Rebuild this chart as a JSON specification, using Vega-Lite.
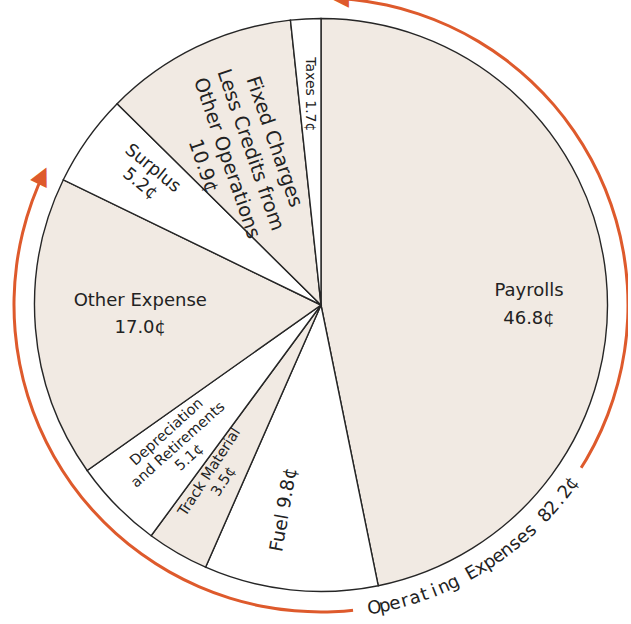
{
  "$schema": "https://vega.github.io/schema/vega-lite/v6.json",
  "width": 614,
  "height": 610,
  "autosize": {"type": "none"},
  "padding": {"left": 14, "top": 0, "right": 0, "bottom": 14},
  "background": "#ffffff",
  "config": {"view": {"stroke": null}, "text": {"font": "DejaVu Sans"}},
  "datasets": {
    "slices": [
      {"item": "Payrolls", "cents": 46.8, "order": 1, "label": "Payrolls\n46.8¢"},
      {"item": "Fuel", "cents": 9.8, "order": 2, "label": "Fuel 9.8¢"},
      {"item": "Track Material", "cents": 3.5, "order": 3, "label": "Track Material\n3.5¢"},
      {"item": "Depreciation and Retirements", "cents": 5.1, "order": 4, "label": "Depreciation\nand Retirements\n5.1¢"},
      {"item": "Other Expense", "cents": 17.0, "order": 5, "label": "Other Expense\n17.0¢"},
      {"item": "Surplus", "cents": 5.2, "order": 6, "label": "Surplus\n5.2¢"},
      {"item": "Fixed Charges Less Credits from Other Operations", "cents": 10.9, "order": 7, "label": "Fixed Charges\nLess Credits from\nOther Operations\n10.9¢"},
      {"item": "Taxes", "cents": 1.7, "order": 8, "label": "Taxes  1.7¢"}
    ],
    "bracket": [{"name": "Operating Expenses", "start": 0, "end": 82.2}],
    "caption": [
      {"i": 0, "ch": "O"}, {"i": 1, "ch": "p"}, {"i": 2, "ch": "e"}, {"i": 3, "ch": "r"},
      {"i": 4, "ch": "a"}, {"i": 5, "ch": "t"}, {"i": 6, "ch": "i"}, {"i": 7, "ch": "n"},
      {"i": 8, "ch": "g"}, {"i": 9, "ch": " "}, {"i": 10, "ch": "E"}, {"i": 11, "ch": "x"},
      {"i": 12, "ch": "p"}, {"i": 13, "ch": "e"}, {"i": 14, "ch": "n"}, {"i": 15, "ch": "s"},
      {"i": 16, "ch": "e"}, {"i": 17, "ch": "s"}, {"i": 18, "ch": " "}, {"i": 19, "ch": "8"},
      {"i": 20, "ch": "2"}, {"i": 21, "ch": "."}, {"i": 22, "ch": "2"}, {"i": 23, "ch": "¢"}
    ]
  },
  "resolve": {"scale": {"theta": "independent", "angle": "independent"}},
  "layer": [
    {
      "data": {"name": "slices"},
      "mark": {"type": "arc", "radius": 286.5, "stroke": "#262626", "strokeWidth": 1.4},
      "encoding": {
        "theta": {"field": "cents", "type": "quantitative", "stack": true, "scale": {"domain": [0, 100], "nice": false}},
        "order": {"field": "order", "type": "quantitative"},
        "color": {
          "field": "item", "type": "nominal", "legend": null,
          "scale": {
            "domain": ["Payrolls", "Fuel", "Track Material", "Depreciation and Retirements", "Other Expense", "Surplus", "Fixed Charges Less Credits from Other Operations", "Taxes"],
            "range": ["#f1eae3", "#ffffff", "#f1eae3", "#ffffff", "#f1eae3", "#ffffff", "#f1eae3", "#ffffff"]
          }
        }
      }
    },
    {
      "data": {"name": "slices"},
      "mark": {"type": "text", "radius": 208, "thetaOffset": 0.101, "angle": 0, "dy": -14, "fontSize": 18, "lineHeight": 28, "lineBreak": "\n", "color": "#222222"},
      "encoding": {
        "theta": {"field": "cents", "type": "quantitative", "stack": true, "scale": {"domain": [0, 100], "nice": false}},
        "order": {"field": "order", "type": "quantitative"},
        "text": {"condition": {"test": "datum.item === 'Payrolls'", "field": "label"}, "value": ""}
      }
    },
    {
      "data": {"name": "slices"},
      "mark": {"type": "text", "radius": 208, "thetaOffset": 0.075, "angle": -80, "fontSize": 18.5, "lineBreak": "\n", "color": "#222222"},
      "encoding": {
        "theta": {"field": "cents", "type": "quantitative", "stack": true, "scale": {"domain": [0, 100], "nice": false}},
        "order": {"field": "order", "type": "quantitative"},
        "text": {"condition": {"test": "datum.item === 'Fuel'", "field": "label"}, "value": ""}
      }
    },
    {
      "data": {"name": "slices"},
      "mark": {"type": "text", "radius": 201, "thetaOffset": 0.02, "angle": -57, "dy": -8.5, "fontSize": 14.5, "lineHeight": 17, "lineBreak": "\n", "color": "#222222"},
      "encoding": {
        "theta": {"field": "cents", "type": "quantitative", "stack": true, "scale": {"domain": [0, 100], "nice": false}},
        "order": {"field": "order", "type": "quantitative"},
        "text": {"condition": {"test": "datum.item === 'Track Material'", "field": "label"}, "value": ""}
      }
    },
    {
      "data": {"name": "slices"},
      "mark": {"type": "text", "radius": 200, "angle": -42, "dy": -17, "fontSize": 14.5, "lineHeight": 17, "lineBreak": "\n", "color": "#222222"},
      "encoding": {
        "theta": {"field": "cents", "type": "quantitative", "stack": true, "scale": {"domain": [0, 100], "nice": false}},
        "order": {"field": "order", "type": "quantitative"},
        "text": {"condition": {"test": "datum.item === 'Depreciation and Retirements'", "field": "label"}, "value": ""}
      }
    },
    {
      "data": {"name": "slices"},
      "mark": {"type": "text", "radius": 181, "thetaOffset": 0.03, "angle": 0, "dy": -13.5, "fontSize": 18, "lineHeight": 27, "lineBreak": "\n", "color": "#222222"},
      "encoding": {
        "theta": {"field": "cents", "type": "quantitative", "stack": true, "scale": {"domain": [0, 100], "nice": false}},
        "order": {"field": "order", "type": "quantitative"},
        "text": {"condition": {"test": "datum.item === 'Other Expense'", "field": "label"}, "value": ""}
      }
    },
    {
      "data": {"name": "slices"},
      "mark": {"type": "text", "radius": 217, "thetaOffset": 0.02, "angle": 39, "dy": -10, "fontSize": 17.5, "lineHeight": 20, "lineBreak": "\n", "color": "#222222"},
      "encoding": {
        "theta": {"field": "cents", "type": "quantitative", "stack": true, "scale": {"domain": [0, 100], "nice": false}},
        "order": {"field": "order", "type": "quantitative"},
        "text": {"condition": {"test": "datum.item === 'Surplus'", "field": "label"}, "value": ""}
      }
    },
    {
      "data": {"name": "slices"},
      "mark": {"type": "text", "radius": 172, "thetaOffset": -0.05, "angle": 71, "dy": -37.5, "fontSize": 19.5, "lineHeight": 25, "lineBreak": "\n", "color": "#222222"},
      "encoding": {
        "theta": {"field": "cents", "type": "quantitative", "stack": true, "scale": {"domain": [0, 100], "nice": false}},
        "order": {"field": "order", "type": "quantitative"},
        "text": {"condition": {"test": "datum.item === 'Fixed Charges Less Credits from Other Operations'", "field": "label"}, "value": ""}
      }
    },
    {
      "data": {"name": "slices"},
      "mark": {"type": "text", "radius": 211, "angle": 90, "fontSize": 14, "lineBreak": "\n", "color": "#222222"},
      "encoding": {
        "theta": {"field": "cents", "type": "quantitative", "stack": true, "scale": {"domain": [0, 100], "nice": false}},
        "order": {"field": "order", "type": "quantitative"},
        "text": {"condition": {"test": "datum.item === 'Taxes'", "field": "label"}, "value": ""}
      }
    },
    {
      "data": {"name": "bracket"},
      "mark": {"type": "arc", "radius": 308.5, "radius2": 305.5, "color": "#de5a2c"},
      "encoding": {
        "theta": {"field": "start", "type": "quantitative", "stack": null, "scale": {"domain": [0, 100], "nice": false}},
        "theta2": {"field": "end"}
      }
    },
    {
      "data": {"name": "bracket"},
      "mark": {"type": "text", "text": "▲", "radius": 307, "angle": 26, "thetaOffset": -0.015, "fontSize": 24, "color": "#de5a2c"},
      "encoding": {
        "theta": {"field": "end", "type": "quantitative", "scale": {"domain": [0, 100], "nice": false}}
      }
    },
    {
      "data": {"name": "bracket"},
      "mark": {"type": "text", "text": "▲", "radius": 307, "angle": -90, "thetaOffset": 0.06, "fontSize": 24, "color": "#de5a2c"},
      "encoding": {
        "theta": {"field": "start", "type": "quantitative", "scale": {"domain": [0, 100], "nice": false}}
      }
    },
    {
      "data": {"name": "caption"},
      "layer": [
        {
          "mark": {"type": "arc", "radius": 320, "radius2": 296, "color": "#ffffff", "thetaOffset": 0.07, "theta2Offset": -0.06},
          "encoding": {
            "theta": {"aggregate": "min", "field": "i", "type": "quantitative", "stack": null, "scale": {"domain": [0, 23], "range": [2.967, 2.19], "nice": false, "zero": false}},
            "theta2": {"aggregate": "max", "field": "i"}
          }
        },
        {
          "mark": {"type": "text", "radius": 308, "fontSize": 18, "color": "#222222"},
          "encoding": {
            "theta": {"field": "i", "type": "quantitative", "scale": {"domain": [0, 23], "range": [2.967, 2.19], "nice": false, "zero": false}},
            "angle": {"field": "i", "type": "quantitative", "scale": {"domain": [0, 23], "range": [-10, -54.5], "nice": false, "zero": false}},
            "text": {"field": "ch"}
          }
        }
      ]
    }
  ]
}
